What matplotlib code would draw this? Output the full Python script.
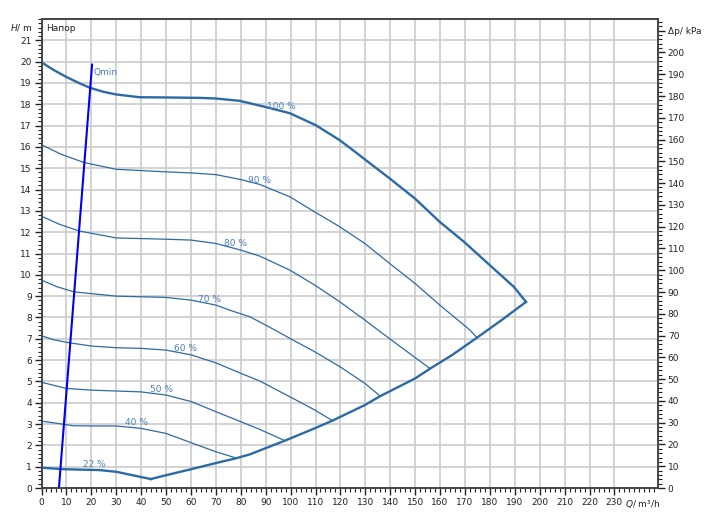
import matplotlib
matplotlib.use("Agg")
import matplotlib.pyplot as plt
from matplotlib.ticker import MultipleLocator, FixedLocator, FixedFormatter

# ---- data ----
Q100 = [0, 5, 10, 15, 19.5, 25, 30, 39.4, 50, 63.7, 70, 79.6, 90.4, 99.7, 110.1, 119.8, 125.1, 130.2, 139.8, 149.9, 159.9, 169.6, 180, 189.6, 194.5]
H100 = [19.97, 19.6, 19.28, 19.0, 18.77, 18.58, 18.46, 18.33, 18.32, 18.3, 18.27, 18.16, 17.86, 17.58, 17.02, 16.31, 15.84, 15.38, 14.52, 13.58, 12.48, 11.55, 10.45, 9.44, 8.73]

Q90 = [0, 8, 17, 30, 50, 60, 70, 80, 87.6, 99.7, 109.7, 119.8, 129.8, 139.8, 149.9, 159.9, 172, 174.8]
H90 = [16.1, 15.65, 15.27, 14.95, 14.83, 14.78, 14.7, 14.47, 14.24, 13.66, 12.95, 12.25, 11.47, 10.53, 9.6, 8.58, 7.41, 7.05]

Q80 = [0, 7, 15, 30, 50, 60, 70, 80, 87.6, 99.7, 109.7, 119.8, 129.8, 135.1, 145, 156]
H80 = [12.75, 12.38, 12.06, 11.73, 11.67, 11.63, 11.47, 11.16, 10.88, 10.22, 9.52, 8.73, 7.88, 7.41, 6.55, 5.6]

Q70 = [0, 6, 13, 30, 50, 60.2, 70, 75.6, 83.7, 93.7, 99.7, 109.7, 119.8, 129.8, 136]
H70 = [9.75, 9.45, 9.2, 9.0, 8.94, 8.81, 8.58, 8.34, 8.03, 7.41, 7.02, 6.39, 5.69, 4.91, 4.31]

Q60 = [0, 5, 11.3, 20, 30, 39.8, 50, 60.2, 70, 80, 87.6, 99.7, 109.7, 116.8]
H60 = [7.14, 6.95, 6.81, 6.66, 6.58, 6.55, 6.47, 6.24, 5.87, 5.38, 5.02, 4.28, 3.66, 3.16]

Q50 = [0, 10, 20, 39.8, 50, 60.2, 70, 80, 87.6, 97.7]
H50 = [4.96, 4.67, 4.59, 4.51, 4.36, 4.05, 3.58, 3.11, 2.75, 2.22]

Q40 = [0, 12.7, 20, 30, 39.8, 50, 60.2, 70, 78.3]
H40 = [3.14, 2.92, 2.91, 2.91, 2.8, 2.56, 2.12, 1.7, 1.4]

Q22 = [0, 9.3, 23.4, 30, 43.9]
H22 = [0.95, 0.88, 0.84, 0.76, 0.42]

Qenv = [43.9, 50, 60, 70, 78.3, 83.7, 97.7, 109.7, 116.8, 129.8, 136, 150, 156, 165, 174.8, 185, 194.5]
Henv = [0.42, 0.6, 0.88, 1.17, 1.4, 1.58, 2.22, 2.8, 3.16, 3.89, 4.31, 5.14, 5.6, 6.25, 7.05, 7.9, 8.73]

Qmin_Q = [7.0, 20.3]
Qmin_H = [0.0, 19.86]

curve_labels = ["100 %", "90 %", "80 %", "70 %", "60 %", "50 %", "40 %", "22 %"]
label_Q = [96.3, 87.4, 77.8, 67.6, 58.0, 48.3, 38.3, 21.4]
label_H = [17.9, 14.44, 11.49, 8.86, 6.56, 4.64, 3.05, 1.08]

x_ticks = list(range(0, 240, 10))
y_ticks = list(range(0, 22, 1))
p_ticks = list(range(0, 210, 10))

# ---- figure ----
fig = plt.figure(figsize=(7.06, 5.27), dpi=100)
ax = fig.add_axes([41.5/706, 1-488/527, (658-41.5)/706, (488-19)/527])

KPA_PER_M = 9.79
ax.set_xlim(0, 247.5)
ax.set_ylim(0, 22)

col = "#2c6aa6"
lab_col = "#4a80b8"

thin = 0.9
thick = 1.7
ax.plot(Q100, H100, color=col, lw=thick, zorder=3, solid_joinstyle="round")
ax.plot(Q90, H90, color=col, lw=thin, zorder=3)
ax.plot(Q80, H80, color=col, lw=thin, zorder=3)
ax.plot(Q70, H70, color=col, lw=thin, zorder=3)
ax.plot(Q60, H60, color=col, lw=thin, zorder=3)
ax.plot(Q50, H50, color=col, lw=thin, zorder=3)
ax.plot(Q40, H40, color=col, lw=thin, zorder=3)
ax.plot(Q22, H22, color=col, lw=thick, zorder=3, solid_joinstyle="round")
ax.plot(Qenv, Henv, color=col, lw=thick, zorder=3, solid_joinstyle="round")
ax.plot([Q100[-1], Qenv[-1]], [H100[-1], Henv[-1]], color=col, lw=thick, zorder=3)

ax.plot(Qmin_Q, Qmin_H, color="#0000ee", lw=1.5, zorder=4)
ax.text(21.0, 19.5, "Qmin", color=lab_col, fontsize=6.5, va="center", ha="left")

for t, q, h in zip(curve_labels, label_Q, label_H):
    ax.text(q, h, t, color=lab_col, fontsize=6.5, ha="center", va="center", zorder=5)

ax.text(1.8, 21.55, "Напор", fontsize=6.5, color="#222222", ha="left", va="center")

# grid
ax.set_xticks(x_ticks)
ax.set_yticks(y_ticks)
ax.xaxis.set_minor_locator(MultipleLocator(2))
ax.yaxis.set_minor_locator(MultipleLocator(0.2))
ax.grid(True, which="major", color="#cccccc", lw=1.2, zorder=0)
ax.set_axisbelow(True)

ax.tick_params(axis="both", which="major", direction="out", length=5, width=1, labelsize=6.5, colors="#222222", pad=2)
ax.tick_params(axis="both", which="minor", direction="out", length=3, width=0.8, colors="#222222")
for s in ax.spines.values():
    s.set_color("#444444")
    s.set_linewidth(1.2)

ax.text(-3.6, 21.6, "$H$/ m", fontsize=6.5, ha="right", va="center", color="#222222")
ax.text(241.5, -0.75, "$Q$/ m³/h", fontsize=6.5, ha="center", va="center", color="#222222")

# right axis
ax2 = ax.twinx()
ax2.set_ylim(0, 22 * KPA_PER_M)
ax2.yaxis.set_major_locator(FixedLocator(p_ticks + [210]))
ax2.yaxis.set_major_formatter(FixedFormatter([str(p) for p in p_ticks] + ["Δp/ kPa"]))
ax2.yaxis.set_minor_locator(MultipleLocator(2))
ax2.tick_params(axis="y", which="major", direction="out", length=5, width=1, labelsize=6.5, colors="#222222", pad=2)
ax2.tick_params(axis="y", which="minor", direction="out", length=3, width=0.8, colors="#222222")
for s in ax2.spines.values():
    s.set_color("#444444")
    s.set_linewidth(1.2)

fig.savefig("out.png", dpi=100)
